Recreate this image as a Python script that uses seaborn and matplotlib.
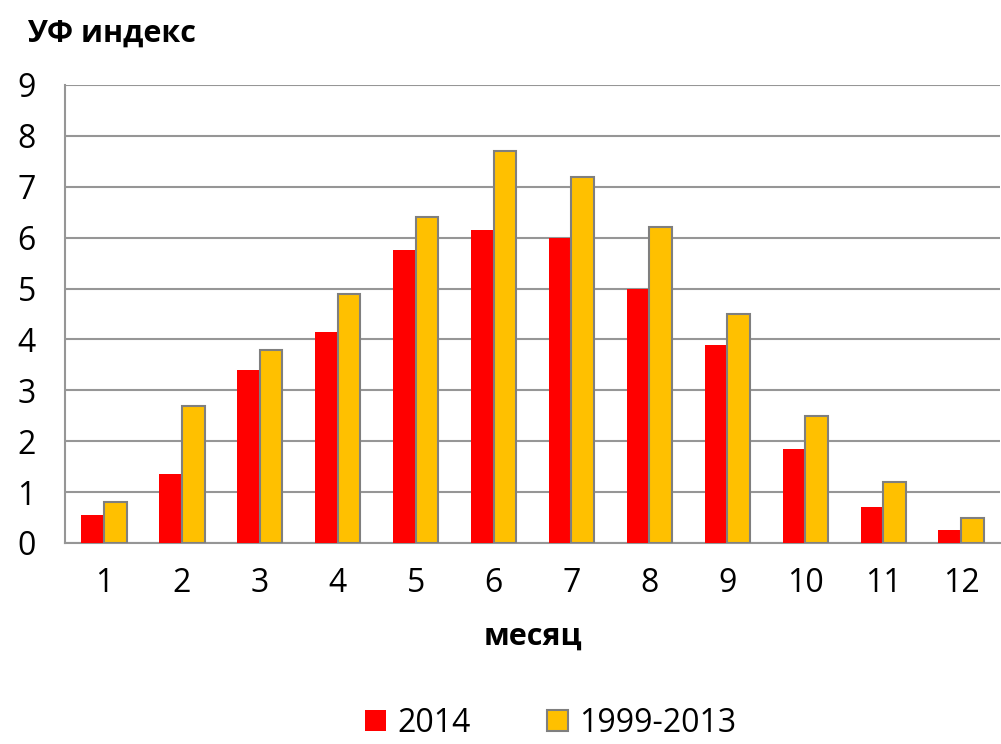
import matplotlib
matplotlib.use("Agg")
import matplotlib.pyplot as plt
import numpy as np
import pandas as pd
import seaborn as sns

# Monthly UV index
MONTHS = ["1", "2", "3", "4", "5", "6", "7", "8", "9", "10", "11", "12"]
UV_2014 = [0.55, 1.35, 3.4, 4.15, 5.75, 6.15, 6.0, 5.0, 3.9, 1.85, 0.7, 0.25]
UV_1999_2013 = [0.8, 2.7, 3.8, 4.9, 6.4, 7.7, 7.2, 6.2, 4.5, 2.5, 1.2, 0.5]
SERIES = ["2014", "1999-2013"]
Y_TICKS = list(range(0, 10))

RED = "#FF0000"
GOLD = "#FFC000"
GRID = "#969696"

sns.set_style("white")
plt.rcParams["font.family"] = ["Open Sans", "DejaVu Sans"]
plt.rcParams["text.color"] = "black"

df = pd.DataFrame({
    "month": MONTHS * 2,
    "value": UV_2014 + UV_1999_2013,
    "series": [SERIES[0]] * len(MONTHS) + [SERIES[1]] * len(MONTHS),
})

fig = plt.figure(figsize=(10.01, 7.44), dpi=100)
ax = fig.add_axes([0.065, 0.2702, 0.934, 0.6156])

sns.barplot(data=df, x="month", y="value", hue="series", order=MONTHS,
            hue_order=SERIES, palette=[RED, GOLD], width=0.58, gap=0,
            saturation=1, ax=ax, legend=False, zorder=3)

# red bars flat, gold bars with a grey outline
for bar in ax.containers[0]:
    bar.set_edgecolor("none")
for bar in ax.containers[1]:
    bar.set_edgecolor("#7F7F7F")
    bar.set_linewidth(1.5)

ax.set_ylim(0, 9)
ax.set_xlim(-0.5, len(MONTHS) - 0.5)
ax.set_yticks(Y_TICKS)
ax.yaxis.grid(True, color=GRID, linewidth=1.5, zorder=0)
ax.set_axisbelow(True)

for side in ["top", "right"]:
    ax.spines[side].set_visible(False)
for side in ["left", "bottom"]:
    ax.spines[side].set_color(GRID)
    ax.spines[side].set_linewidth(1.5)

ax.tick_params(axis="y", length=8, width=1.5, color=GRID, pad=13,
               labelsize=23, labelcolor="black")
ax.tick_params(axis="x", which="major", length=0, pad=17, labelsize=23,
               labelcolor="black")
ax.set_xticks(np.arange(-0.5, len(MONTHS), 1), minor=True)
ax.tick_params(axis="x", which="minor", length=10, width=1.5, color=GRID)

ax.set_xlabel("месяц", fontsize=22, fontweight="bold", labelpad=16,
              color="black")
ax.set_ylabel("")
fig.text(0.027, 0.955, "УФ индекс", fontsize=22, fontweight="bold",
         ha="left", va="center", color="black")

handles = [plt.Rectangle((0, 0), 1, 1, facecolor=RED, edgecolor="none"),
           plt.Rectangle((0, 0), 1, 1, facecolor=GOLD, edgecolor="#7F7F7F",
                         linewidth=1.5)]
fig.legend(handles, SERIES, loc="center", bbox_to_anchor=(0.55, 0.028),
           ncol=2, frameon=False, fontsize=23, handlelength=0.65,
           handleheight=0.65, handletextpad=0.35, columnspacing=2.4,
           borderpad=0.1)

fig.savefig("out.png", dpi=100)
